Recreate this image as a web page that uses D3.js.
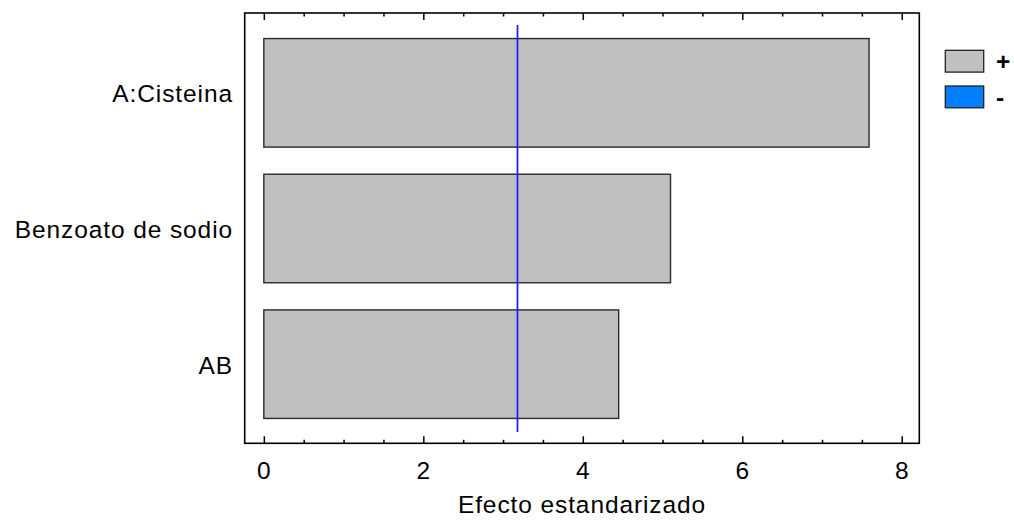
<!DOCTYPE html>
<html>
<head>
<meta charset="utf-8">
<script src="https://cdn.jsdelivr.net/npm/d3@7/dist/d3.min.js"></script>
<style>
  html, body { margin: 0; padding: 0; background: #fff; }
  svg text { font-family: "Liberation Sans", Arial, sans-serif; fill: #000; }
</style>
</head>
<body>
<svg id="chart" width="1014" height="523"></svg>
<script>
// ---- data ----
const categories = ["A:Cisteina", "Benzoato de sodio", "AB"];
const effects = [7.59, 5.10, 4.45];
const signs = ["+", "+", "+"];
const criticalValue = 3.18;
const xTicks = [0, 2, 4, 6, 8];
const xMinorTicks = [0.5, 1, 1.5, 2.5, 3, 3.5, 4.5, 5, 5.5, 6.5, 7, 7.5];
const xLimits = [-0.24, 8.22];
const legendLabels = ["+", "-"];
const legendColors = ["#c0c0c0", "#0080ff"];
const xTitle = "Efecto estandarizado";

// ---- layout ----
const svg = d3.select("#chart");
const frame = { left: 244.7, right: 919.3, top: 13, bottom: 443.3 };
const x = d3.scaleLinear().domain(xLimits).range([frame.left, frame.right]);
const y = d3.scaleBand().domain(categories).range([25, 432]).paddingInner(0.2).paddingOuter(0.1);
const fontSize = 24.5;
const ls = "0.9px";

// bars
svg.append("g").selectAll("rect").data(categories).join("rect")
  .attr("x", x(0))
  .attr("y", d => y(d))
  .attr("width", (d, i) => x(effects[i]) - x(0))
  .attr("height", y.bandwidth())
  .attr("fill", (d, i) => signs[i] === "+" ? legendColors[0] : legendColors[1])
  .attr("stroke", "#2a2a2a")
  .attr("stroke-width", 1.4);

// critical value line
const cx = Math.round(x(criticalValue)) + 0.5;
svg.append("line")
  .attr("x1", cx).attr("x2", cx)
  .attr("y1", y.range()[0]).attr("y2", y.range()[1])
  .attr("stroke", "#1a1aff").attr("stroke-width", 1.7);

// frame
svg.append("rect")
  .attr("x", frame.left).attr("y", frame.top)
  .attr("width", frame.right - frame.left).attr("height", frame.bottom - frame.top)
  .attr("fill", "none").attr("stroke", "#000").attr("stroke-width", 1.6);

// bottom axis (ticks inward)
const bottomAxis = d3.axisBottom(x).tickValues(xTicks).tickSize(-7).tickPadding(0).tickFormat(d3.format("d"));
const gb = svg.append("g").attr("transform", `translate(0,${frame.bottom})`).call(bottomAxis);
gb.select(".domain").remove();
gb.selectAll(".tick line").attr("stroke", "#000").attr("stroke-width", 1.5);
gb.selectAll(".tick text").attr("y", 36).attr("dy", null)
  .style("font-size", fontSize + "px").style("letter-spacing", ls)
  .style("font-family", "'Liberation Sans', Arial, sans-serif").attr("fill", "#000");
const gbm = svg.append("g").attr("transform", `translate(0,${frame.bottom})`)
  .call(d3.axisBottom(x).tickValues(xMinorTicks).tickSize(-3.5).tickFormat(""));
gbm.select(".domain").remove();
gbm.selectAll(".tick line").attr("stroke", "#000").attr("stroke-width", 1.5);

// top axis (ticks inward)
const gt = svg.append("g").attr("transform", `translate(0,${frame.top})`)
  .call(d3.axisTop(x).tickValues(xTicks).tickSize(-7).tickFormat(""));
gt.select(".domain").remove();
gt.selectAll(".tick line").attr("stroke", "#000").attr("stroke-width", 1.5);
const gtm = svg.append("g").attr("transform", `translate(0,${frame.top})`)
  .call(d3.axisTop(x).tickValues(xMinorTicks).tickSize(-3.5).tickFormat(""));
gtm.select(".domain").remove();
gtm.selectAll(".tick line").attr("stroke", "#000").attr("stroke-width", 1.5);

// category labels
svg.append("g").selectAll("text").data(categories).join("text")
  .attr("x", 233)
  .attr("y", d => y(d) + y.bandwidth() / 2 + 9.5)
  .attr("text-anchor", "end")
  .style("font-size", fontSize + "px").style("letter-spacing", ls)
  .text(d => d);

// x title
svg.append("text")
  .attr("x", (frame.left + frame.right) / 2).attr("y", 512.7)
  .attr("text-anchor", "middle")
  .style("font-size", fontSize + "px").style("letter-spacing", ls)
  .text(xTitle);

// legend
const lg = svg.append("g");
legendLabels.forEach((lab, i) => {
  const top = i === 0 ? 50.3 : 86;
  lg.append("rect").attr("x", 945.3).attr("y", top).attr("width", 38.4).attr("height", 21.8)
    .attr("fill", legendColors[i]).attr("stroke", "#222").attr("stroke-width", 1.3);
  lg.append("text").attr("x", 996).attr("y", top + 19.5)
    .style("font-size", fontSize + "px").style("font-weight", "bold")
    .text(lab);
});
</script>
</body>
</html>
